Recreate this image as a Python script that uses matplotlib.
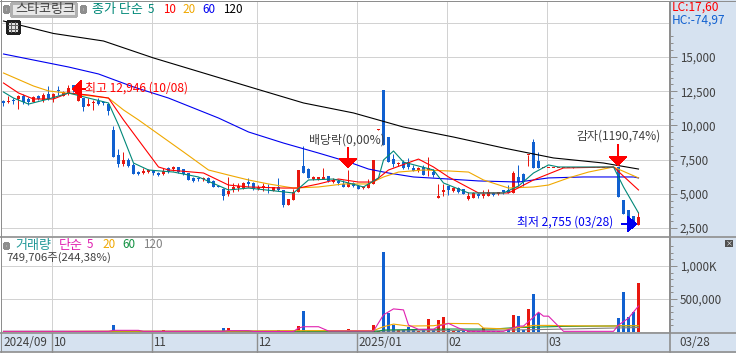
import matplotlib
matplotlib.use('Agg')
import numpy as np
import matplotlib.pyplot as plt
from matplotlib.patches import Rectangle

plt.rcParams['font.family'] = ['Noto Sans CJK KR', 'DejaVu Sans']
plt.rcParams['patch.antialiased'] = False

W, H = 736, 353

# daily candles, 2024/09 .. 2025/03/28
opens = [11780, 11710, 11810, 11930, 12150, 11930, 11730, 12170, 11860, 12280, 11980, 12540, 12170, 12350, 12946, 11810,
         12000, 11420, 11620, 11810, 11710, 11540, 9660, 7840, 7180, 7470, 7105, 6620, 6500, 6590, 6740, 6540,
         6450, 6860, 6790, 6960, 6810, 6500, 6130, 6080, 6060, 6130, 5960, 5590, 5330, 4960, 5280, 5450,
         5450, 5890, 5810, 5350, 5450, 5500, 5230, 5480, 5280, 4180, 4550, 5150, 7050, 6790, 6060, 6010,
         6100, 6300, 5890, 5940, 5720, 5520, 5770, 5570, 5400, 5450, 5720, 9700, 12588, 9170, 7520, 7180,
         7300, 7300, 6860, 6740, 6940, 6740, 6620, 4720, 5150, 5570, 5230, 5420, 5330, 4620, 4720, 4990,
         4860, 4860, 5040, 4960, 5260, 5280, 5080, 6250, 6450, 7800, 8770, 7420, 6900, 6900, 6900, 6900,
         6900, 6900, 6890, 6900, 6900, 6900, 6900, 6900, 6900, 6900, 6900, 6980, 4580, 3820, 3380, 2700]
highs = [11880, 12150, 12000, 12220, 12300, 12100, 12150, 12220, 12350, 12880, 12350, 12880, 12510, 12946, 12946, 12830,
         12000, 12000, 11860, 12000, 11810, 11660, 9960, 8250, 8030, 7620, 7230, 6690, 6860, 6810, 6740, 6620,
         6860, 6980, 7030, 6980, 6810, 6540, 6210, 6250, 6210, 6250, 6010, 5590, 5450, 6210, 5770, 5770,
         5890, 6130, 5890, 5640, 5810, 5690, 5520, 6180, 5280, 4640, 5330, 6740, 8490, 6860, 6270, 6250,
         6860, 6300, 6130, 6060, 6010, 6740, 5890, 5640, 5590, 6060, 7470, 9740, 12588, 9170, 7910, 7350,
         7470, 7640, 7100, 6980, 7100, 7710, 6790, 5720, 5720, 5570, 5480, 5520, 5330, 5150, 5150, 5040,
         5280, 5330, 5110, 5150, 5280, 5640, 6690, 7100, 6500, 7840, 8980, 8080, 6900, 6900, 6900, 6900,
         6900, 6900, 6980, 6900, 6900, 6900, 6900, 6900, 6900, 6900, 6900, 6980, 4580, 3820, 3380, 3690]
lows = [11420, 11640, 11560, 11200, 11560, 11490, 11690, 11860, 11730, 11860, 11730, 12220, 12150, 12220, 12440, 11810,
        11050, 11420, 11130, 11490, 11490, 10760, 7710, 6980, 7050, 6980, 6450, 6370, 6450, 6500, 6370, 6300,
        6370, 6540, 6690, 6540, 6370, 6010, 5860, 5940, 5940, 5810, 5520, 5520, 4550, 4840, 5150, 5230,
        5330, 5520, 5280, 5280, 5230, 5080, 5210, 5230, 4010, 4180, 4550, 5150, 6500, 6130, 6010, 6010,
        6060, 5890, 5770, 5640, 5480, 5520, 5520, 5330, 5330, 5400, 5720, 9700, 8570, 7350, 6940, 7030,
        6840, 6810, 6690, 6620, 6370, 6320, 6210, 4720, 4840, 4910, 5150, 5080, 4990, 4550, 4670, 4720,
        4720, 4860, 4860, 4910, 4990, 5040, 5080, 5570, 5570, 7050, 6860, 6860, 6900, 6900, 6900, 6900,
        6900, 6900, 6890, 6900, 6900, 6900, 6900, 6900, 6900, 6900, 6900, 4790, 3490, 3250, 2650, 2700]
closes = [11640, 11810, 11770, 12150, 11730, 11730, 12050, 11930, 12220, 11930, 12300, 12500, 12420, 12730, 12640, 12390,
          11370, 11560, 11710, 11560, 11620, 11070, 7710, 7180, 7470, 7050, 6450, 6450, 6690, 6740, 6540, 6370,
          6670, 6620, 6980, 6620, 6430, 6010, 5940, 6060, 6130, 5810, 5520, 5520, 4860, 5230, 5480, 5570,
          5810, 5690, 5370, 5520, 5550, 5400, 5480, 5280, 4180, 4620, 5150, 6740, 6500, 6130, 6210, 6250,
          6210, 5940, 6010, 5810, 5520, 5810, 5590, 5370, 5520, 5720, 7470, 9740, 8570, 7350, 7160, 7270,
          6910, 6980, 6690, 6860, 6370, 6860, 6370, 4840, 5280, 5280, 5400, 5110, 4990, 4860, 5080, 4840,
          4990, 5150, 4930, 5110, 5110, 5040, 6500, 5890, 5890, 7840, 6860, 6860, 6960, 6960, 6960, 6960,
          6960, 6960, 6980, 6960, 6960, 6960, 6960, 6960, 6960, 6960, 6960, 4790, 3490, 3250, 2650, 3280]
volumes = [9000, 12000, 9000, 12000, 10000, 10000, 9000, 12000, 9000, 12000, 9000, 9000, 10000, 15000, 12000, 12000,
           10000, 9000, 12000, 10000, 9000, 12000, 106000, 25000, 15000, 15000, 15000, 12000, 12000, 10000, 15000, 12000,
           30000, 12000, 12000, 10000, 12000, 12000, 10000, 10000, 9000, 12000, 10000, 9000, 60000, 60000, 15000, 12000,
           12000, 12000, 10000, 10000, 10000, 9000, 10000, 30000, 15000, 12000, 12000, 90000, 318000, 15000, 12000, 12000,
           12000, 12000, 12000, 12000, 12000, 45000, 12000, 12000, 12000, 12000, 106000, 15000, 1216000, 292000, 106000, 30000,
           30000, 80000, 30000, 25000, 40000, 197000, 40000, 182000, 232000, 50000, 25000, 25000, 25000, 25000, 25000, 25000,
           65000, 25000, 25000, 25000, 10000, 30000, 258000, 242000, 30000, 348000, 575000, 298000, 0, 0, 0, 0,
           0, 0, 0, 0, 0, 0, 0, 0, 0, 0, 0, 212000, 606000, 227000, 303000, 749706]

# price moving averages, read at the bends of each line
ma5_idx = [0, 2, 5, 9, 13, 17, 21, 23, 26, 29, 34, 39, 45, 49, 58, 61, 66, 72, 75, 76, 78, 80, 86, 88, 93, 100, 103, 106, 109, 111, 122, 124, 127]
ma5 = [12440, 12000, 11560, 11930, 12370, 12000, 11640, 10030, 7250, 6740, 6590, 6230, 5280, 5420, 5060, 6010, 6080, 5500, 6160, 7470, 8130, 7320, 6740, 5790, 5060, 5060, 5570, 6520, 7110, 6960, 6960, 5500, 3600]
ma10_idx = [0, 3, 6, 10, 13, 17, 21, 24, 31, 33, 40, 45, 49, 56, 59, 63, 67, 71, 74, 77, 83, 86, 89, 95, 101, 106, 112, 122, 127]
ma10 = [13100, 12370, 11930, 11930, 12370, 12220, 12000, 10400, 6960, 6740, 6520, 5640, 5500, 5420, 5420, 5720, 6080, 5860, 5860, 6740, 7540, 6960, 6230, 5060, 5060, 6010, 6890, 6960, 5280]
ma20_idx = [0, 6, 9, 21, 24, 27, 36, 41, 45, 49, 53, 58, 63, 68, 73, 76, 79, 84, 89, 93, 96, 101, 106, 109, 113, 117, 122, 127]
ma20 = [13830, 12880, 12520, 12000, 11130, 10400, 8060, 6740, 6370, 6010, 5720, 5420, 5500, 5720, 5720, 6230, 6590, 6740, 6670, 6590, 6010, 5420, 5500, 5640, 6160, 6590, 6960, 6160]
ma60_idx = [0, 6, 13, 19, 26, 33, 43, 49, 56, 63, 69, 73, 77, 82, 89, 95, 103, 109, 116, 126, 127]
ma60 = [15220, 14780, 14270, 13760, 12810, 12000, 10540, 9520, 8710, 7980, 7330, 6810, 6520, 6230, 6080, 5940, 5860, 6160, 6230, 6230, 6160]
ma120_idx = [0, 10, 20, 30, 40, 50, 60, 70, 80, 90, 100, 110, 120, 127]
ma120 = [17630, 16720, 16170, 14930, 13830, 12730, 11640, 10910, 9880, 9150, 8350, 7620, 7250, 6810]

# volume moving averages
vma5_idx = [0, 21, 22, 27, 28, 44, 45, 49, 50, 58, 59, 60, 63, 65, 74, 76, 78, 80, 81, 83, 86, 87, 89, 91, 93, 100, 103, 104, 106, 107, 108, 109, 112, 122, 123, 125, 127]
vma5 = [10000, 10000, 25000, 25000, 10000, 10000, 20000, 20000, 8000, 8000, 60000, 80000, 80000, 15000, 15000, 260000, 350000, 335000, 105000, 40000, 40000, 90000, 130000, 60000, 10000, 10000, 90000, 90000, 225000, 300000, 240000, 240000, 10000, 10000, 105000, 210000, 394000]
vma20_idx = [0, 12, 13, 22, 44, 59, 74, 76, 78, 81, 86, 89, 95, 96, 101, 106, 109, 112, 122, 123, 127]
vma20 = [7000, 7000, 10000, 12000, 12000, 20000, 22000, 80000, 120000, 90000, 95000, 130000, 125000, 60000, 45000, 100000, 100000, 95000, 90000, 95000, 95000]
vma60_idx = [0, 12, 13, 75, 76, 89, 98, 102, 112, 127]
vma60 = [9000, 9000, 7000, 12000, 30000, 45000, 45000, 65000, 85000, 95000]
vma120_idx = [0, 75, 89, 106, 122, 127]
vma120 = [7000, 15000, 20000, 35000, 60000, 68000]

month_idx = [10, 30, 51, 71, 89, 109]
month_labels = ['10', '11', '12', '2025/01', '02', '03']
price_ticks = [2500, 5000, 7500, 10000, 12500, 15000]
price_labels = ['2,500', '5,000', '7,500', '10,000', '12,500', '15,000']
vol_ticks = [500000, 1000000]
vol_labels = ['500,000', '1,000K']

RED = '#e8170f'
BLUE = '#1060d0'
TEAL = '#008878'
ORANGE = '#f0a800'
PURE_RED = '#ff0000'
PURE_BLUE = '#0000f0'
MAGENTA = '#e020b0'
GREEN = '#109040'
GREY = '#808080'
GRID = '#d2d2d2'
EDGE = '#8e8e8e'
BAND = '#d6e2f0'
DARK = '#404040'
FS = 8.6
FS_NUM = 8.4
FS_KR = 9.4
LW = 0.72
MA_LW = 0.8
BODY = 0.6


def rect(l, t, r, b):
    return [l / W, 1 - b / H, (r - l) / W, (b - t) / H]


def txt(x, y, s, color=DARK, **kw):
    fig.text(x / W, 1 - y / H, s, color=color, fontsize=kw.pop('fontsize', FS), ha=kw.pop('ha', 'left'), va='center', **kw)


def box(l, t, r, b, face, edge='none', lw=0.0, z=0):
    fig.add_artist(Rectangle((l / W, 1 - b / H), (r - l) / W, (b - t) / H, transform=fig.transFigure,
                             facecolor=face, edgecolor=edge, linewidth=lw, zorder=z))


def arrow(x0, y0, x1, y1, color, hl, hw):
    style = f'-|>,head_length={hl},head_width={hw}'
    fig.axes[0].annotate('', xy=(x1, H - y1), xytext=(x0, H - y0), xycoords='figure pixels', textcoords='figure pixels',
                         arrowprops=dict(arrowstyle=style, color=color, lw=LW, shrinkA=0, shrinkB=0, mutation_scale=1), zorder=6,
                         annotation_clip=False)


fig = plt.figure(figsize=(W / 100, H / 100), dpi=100, facecolor='white')

# blue side and bottom bands
box(670, 0, 736, 353, BAND)
box(0, 333, 670, 352, BAND)

ax = fig.add_axes(rect(2, 2, 670, 236))
axv = fig.add_axes(rect(2, 237, 670, 333))
xlim = (-0.3, 133.3)

# price panel
ax.set_xlim(*xlim)
ax.set_ylim(1915, 19021)
ax.patch.set_alpha(0)
for y in price_ticks + [17500]:
    ax.axhline(y, color=GRID, lw=LW, zorder=1)
for m in month_idx:
    ax.axvline(m - 0.3, color=GRID, lw=LW, zorder=1)

x = np.arange(len(opens))
o, h, l, c = map(np.array, (opens, highs, lows, closes))
colors = [RED if cc >= oo else BLUE for oo, cc in zip(o, c)]
ax.vlines(x, l, h, colors=colors, lw=LW, zorder=2)
ax.bar(x, np.maximum(np.abs(c - o), 73), bottom=np.minimum(o, c), width=BODY, color=colors, linewidth=0, zorder=2)

ax.plot(ma120_idx, ma120, color='black', lw=MA_LW, zorder=3)
ax.plot(ma60_idx, ma60, color=PURE_BLUE, lw=MA_LW, zorder=3)
ax.plot(ma20_idx, ma20, color=ORANGE, lw=MA_LW, zorder=3)
ax.plot(ma10_idx, ma10, color=PURE_RED, lw=MA_LW, zorder=3)
ax.plot(ma5_idx, ma5, color=TEAL, lw=MA_LW, zorder=3)

# volume panel
axv.set_xlim(*xlim)
axv.set_ylim(-15150, 1439250)
axv.patch.set_alpha(0)
for y in [0] + vol_ticks:
    axv.axhline(y, color=GRID, lw=LW, zorder=1)
for m in month_idx:
    axv.axvline(m - 0.3, color=GRID, lw=LW, zorder=1)
axv.bar(x, volumes, width=BODY, color=colors, linewidth=0, zorder=2, bottom=-5000)
axv.plot(vma120_idx, vma120, color=GREY, lw=MA_LW, zorder=3)
axv.plot(vma60_idx, vma60, color=GREEN, lw=MA_LW, zorder=3)
axv.plot(vma20_idx, vma20, color=ORANGE, lw=MA_LW, zorder=3)
axv.plot(vma5_idx, vma5, color=MAGENTA, lw=MA_LW, zorder=4)

for a in (ax, axv):
    a.set_xticks([])
    for side in ('top', 'left', 'bottom'):
        a.spines[side].set_visible(False)
    a.spines['right'].set_color(EDGE)
    a.spines['right'].set_linewidth(1.2)
    a.yaxis.tick_right()
    a.tick_params(axis='y', which='major', length=5, width=LW, color=EDGE, pad=2, labelsize=FS_NUM, labelcolor=DARK)
    a.tick_params(axis='y', which='minor', length=2.2, width=LW, color=EDGE)

ax.set_yticks(price_ticks, price_labels)
ax.set_yticks(np.arange(2500, 17000, 500), minor=True)
axv.set_yticks(vol_ticks, vol_labels)
axv.set_yticks(np.arange(100000, 1400000, 100000), minor=True)

# frame lines
for x0, y0, x1, y1, lw in [(0, 0.5, 736, 0.5, LW), (0.5, 0, 0.5, 353, LW), (0, 236.5, 736, 236.5, 1.2),
                           (0, 333, 736, 333, 1.2), (0, 352, 736, 352, 1.2)]:
    fig.add_artist(plt.Line2D([x0 / W, x1 / W], [1 - y0 / H, 1 - y1 / H], color=EDGE, lw=lw, zorder=5))
for m in month_idx:
    px = 3 + 5 * m - 1.5
    fig.add_artist(plt.Line2D([px / W, px / W], [1 - 333 / H, 1 - 352 / H], color=EDGE, lw=1.0, zorder=5))
fig.add_artist(plt.Line2D([670 / W, 670 / W], [1 - 333 / H, 1 - 352 / H], color=EDGE, lw=1.2, zorder=5))

# header of the price panel
box(4, 6, 8, 12, '#a8a8a8', EDGE, 0.8, 6)
box(11, 3, 76, 16, '#e8e8e8', '#b0b0b0', 1.0, 6)
txt(15, 9.5, '스타코링크', zorder=7, fontsize=FS_KR)
box(81, 6, 85, 12, '#a8a8a8', EDGE, 0.8, 6)
txt(92, 9.5, '종가 단순', TEAL, zorder=7, fontsize=FS_KR)
txt(148, 9.5, '5', TEAL, fontsize=FS_NUM)
txt(163, 9.5, '10', PURE_RED, fontsize=FS_NUM)
txt(182, 9.5, '20', ORANGE, fontsize=FS_NUM)
txt(202, 9.5, '60', PURE_BLUE, fontsize=FS_NUM)
txt(223, 9.5, '120', 'black', fontsize=FS_NUM)
box(7, 21, 19, 33, '#e0e0e0', '#202020', 1.0, 6)
for gy in (25, 29):
    fig.add_artist(plt.Line2D([8 / W, 18 / W], [1 - gy / H, 1 - gy / H], color='#606060', lw=LW, zorder=7))
for gx in (11, 15):
    fig.add_artist(plt.Line2D([gx / W, gx / W], [1 - 22 / H, 1 - 32 / H], color='#606060', lw=LW, zorder=7))
txt(672, 7, 'LC:17,60', PURE_RED)
txt(672, 20, 'HC:-74,97', BLUE)

# event notes
txt(85, 88, '최고 12,946 (10/08)', PURE_RED, zorder=7)
arrow(85, 89, 72, 89, PURE_RED, 6, 5.5)
txt(309, 140, '배당락(0,00%)', zorder=7)
arrow(348, 148, 348, 168, PURE_RED, 6, 5.5)
txt(576, 136, '감자(1190,74%)', zorder=7)
arrow(618, 145, 618, 166, PURE_RED, 6, 5.5)
txt(517, 222, '최저 2,755 (03/28)', PURE_BLUE, zorder=7)
arrow(622, 224, 637, 224, PURE_BLUE, 6, 5)

# header of the volume panel
box(4, 243, 8, 248, '#a8a8a8', EDGE, 0.8, 6)
txt(15, 245, '거래량', '#209898', zorder=7, fontsize=FS_KR)
txt(59, 245, '단순', MAGENTA, fontsize=FS_KR)
txt(87, 245, '5', MAGENTA, fontsize=FS_NUM)
txt(102, 245, '20', ORANGE, fontsize=FS_NUM)
txt(122, 245, '60', GREEN, fontsize=FS_NUM)
txt(143, 245, '120', GREY, fontsize=FS_NUM)
txt(6, 258, '749,706주(244,38%)', zorder=7, fontsize=8.2)
box(725, 240, 733, 247, '#505050', z=6)
txt(729, 243.5, '×', 'white', ha='center', fontsize=5, zorder=7)

# date band
txt(3, 342, '2024/09', fontsize=FS_NUM)
for m, label in zip(month_idx, month_labels):
    txt(3 + 5 * m + 0.5, 342, label, fontsize=FS_NUM)
txt(679, 342, '03/28', fontsize=FS_NUM)

fig.savefig('out.png', dpi=100, facecolor='white')
